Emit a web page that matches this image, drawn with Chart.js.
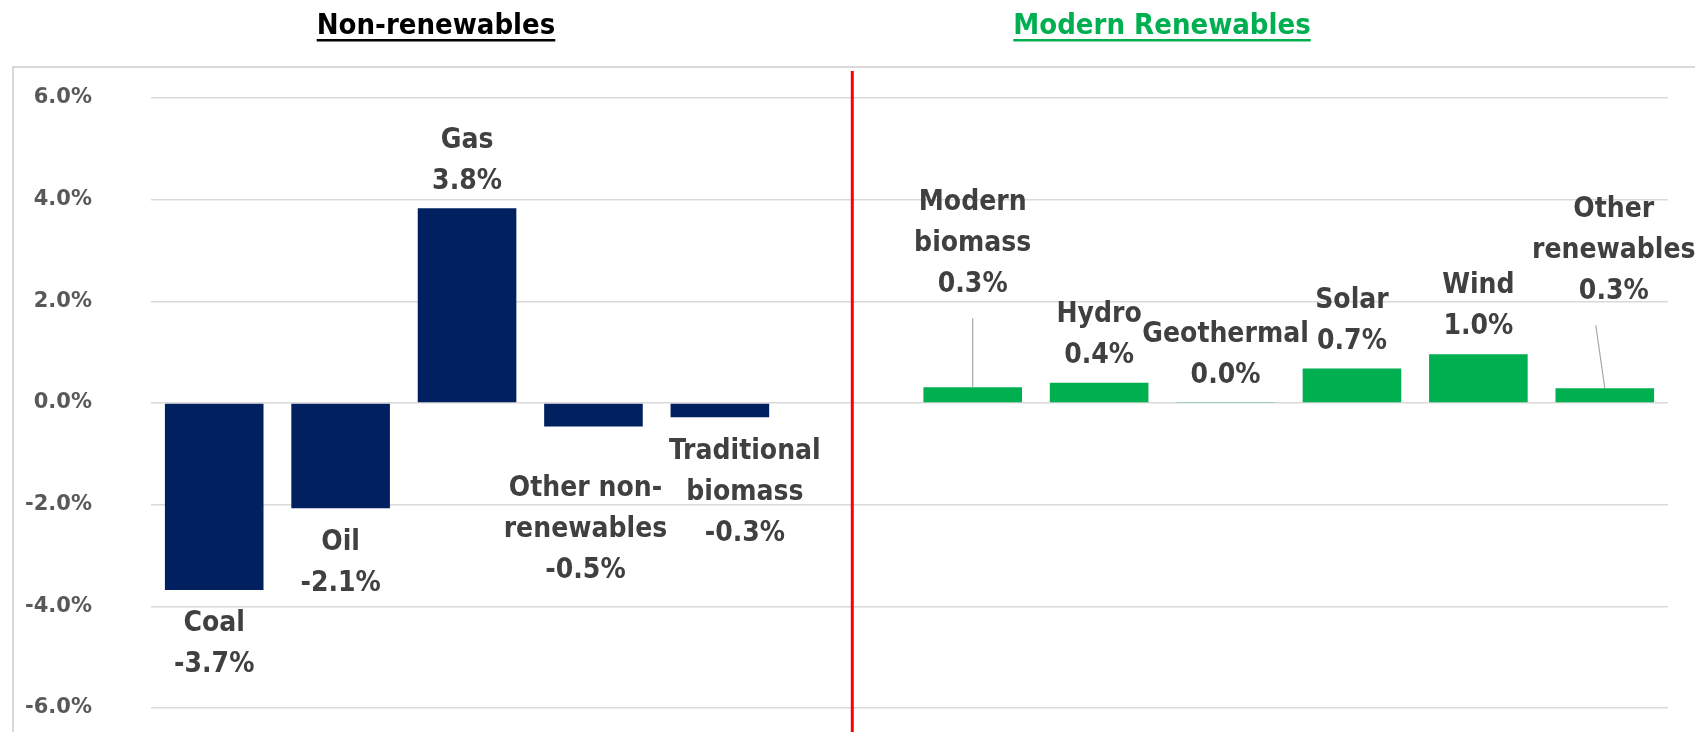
<!DOCTYPE html>
<html lang="en">
<head>
  <meta charset="UTF-8" />
  <title>Energy mix change</title>
  <script src="https://cdn.jsdelivr.net/npm/chart.js"></script>
  <style>
    body {
      margin: 0;
      background: white;
    }
    canvas {
      display: block;
    }
  </style>
</head>
<body>

  <canvas id="mixChart" width="1695" height="732"></canvas>

  <script>
    // categories, the empty one is the gap where the red divider goes
    const categories = ['Coal', 'Oil', 'Gas', 'Other non-renewables', 'Traditional biomass', '',
      'Modern biomass', 'Hydro', 'Geothermal', 'Solar', 'Wind', 'Other renewables'];
    // how each category name is wrapped in its data label
    const labelLines = [['Coal'], ['Oil'], ['Gas'], ['Other non-', 'renewables'], ['Traditional', 'biomass'], [],
      ['Modern', 'biomass'], ['Hydro'], ['Geothermal'], ['Solar'], ['Wind'], ['Other', 'renewables']];
    // change in share, percentage points
    const values = [-3.68, -2.07, 3.83, -0.46, -0.28, null, 0.31, 0.40, 0.01, 0.68, 0.96, 0.29];
    const nonRenewableCount = 5;
    const yTicks = [-6, -4, -2, 0, 2, 4, 6];

    const NAVY = '#002060';
    const GREEN = '#00B050';
    const labelFont = "bold 28px 'DejaVu Sans Condensed', 'Liberation Sans Narrow', sans-serif";
    const titleFont = "bold 29px 'DejaVu Sans Condensed', 'Liberation Sans Narrow', sans-serif";

    // hand nudges for the labels that Excel moved
    const labelDx = [0, 0, 0, -8, 25, 0, 0, 0, 0, 0, 0, 9];
    const labelDy = [0, 0, 0, 28, 0, 0, -76, 0, 0, 0, 0, -70];
    const leader = [false, false, false, false, false, false, true, false, false, false, false, true];

    const decorations = {
      id: 'decorations',
      beforeDraw(chart) {
        const ctx = chart.ctx;
        ctx.save();
        ctx.fillStyle = 'white';
        ctx.fillRect(0, 0, chart.width, chart.height);
        ctx.strokeStyle = '#d9d9d9';
        ctx.lineWidth = 2;
        ctx.strokeRect(13, 67, chart.width, chart.height);
        ctx.restore();
      },
      afterDatasetsDraw(chart) {
        const ctx = chart.ctx;
        const bars = chart.getDatasetMeta(0).data;
        const lineH = 41;
        ctx.save();

        // red divider between the two groups
        const xDiv = chart.scales.x.getPixelForValue(nonRenewableCount) + 6;
        ctx.strokeStyle = '#ff0000';
        ctx.lineWidth = 3;
        ctx.beginPath();
        ctx.moveTo(xDiv, 71);
        ctx.lineTo(xDiv, chart.height);
        ctx.stroke();

        // data labels
        ctx.font = labelFont;
        ctx.fillStyle = '#404040';
        ctx.textAlign = 'center';
        ctx.textBaseline = 'middle';
        bars.forEach((bar, i) => {
          const v = values[i];
          if (v === null) return;
          const lines = labelLines[i].concat([v.toFixed(1) + '%']);
          const x = bar.x + labelDx[i];
          let first;
          if (v >= 0) {
            const last = bar.y - 27 + labelDy[i];
            first = last - (lines.length - 1) * lineH;
            if (leader[i]) {
              ctx.save();
              ctx.strokeStyle = '#a6a6a6';
              ctx.lineWidth = 1.2;
              ctx.beginPath();
              ctx.moveTo(bar.x, bar.y);
              ctx.lineTo(bar.x - labelDx[i], last + 34);
              ctx.stroke();
              ctx.restore();
            }
          } else {
            first = bar.y + 34 + labelDy[i];
          }
          lines.forEach((t, k) => ctx.fillText(t, x, first + k * lineH));
        });

        // group titles, underlined
        ctx.font = titleFont;
        ctx.textBaseline = 'alphabetic';
        const titles = [['Non-renewables', 436, '#000000'], ['Modern Renewables', 1162, GREEN]];
        titles.forEach(([t, cx, col]) => {
          const w = ctx.measureText(t).width;
          ctx.fillStyle = col;
          ctx.fillText(t, cx, 34);
          ctx.fillRect(cx - w / 2, 39, w, 2.5);
        });
        ctx.restore();
      }
    };

    new Chart(document.getElementById('mixChart'), {
      type: 'bar',
      data: {
        labels: categories,
        datasets: [{
          data: values,
          backgroundColor: categories.map((c, i) => i < nonRenewableCount ? NAVY : GREEN),
          barPercentage: 0.78,
          categoryPercentage: 1
        }]
      },
      options: {
        responsive: false,
        animation: false,
        devicePixelRatio: 1,
        layout: { padding: { left: 0, right: 27, top: 98, bottom: 24 } },
        plugins: {
          legend: { display: false },
          tooltip: { enabled: false }
        },
        scales: {
          x: { display: false },
          y: {
            min: yTicks[0],
            max: yTicks[yTicks.length - 1],
            afterBuildTicks: s => { s.ticks = yTicks.map(v => ({ value: v })); },
            // the big tick padding would otherwise also pad the chart top and bottom
            afterFit: s => { s.width = 151; s.paddingTop = 12; s.paddingBottom = 12; },
            ticks: {
              padding: 59,
              color: '#595959',
              font: { family: "'DejaVu Sans', sans-serif", size: 21, weight: 'bold' },
              callback: v => v.toFixed(1) + '%'
            },
            grid: { color: '#d9d9d9', lineWidth: 1.5, drawTicks: false },
            border: { display: false }
          }
        }
      },
      plugins: [decorations]
    });
  </script>

</body>
</html>
